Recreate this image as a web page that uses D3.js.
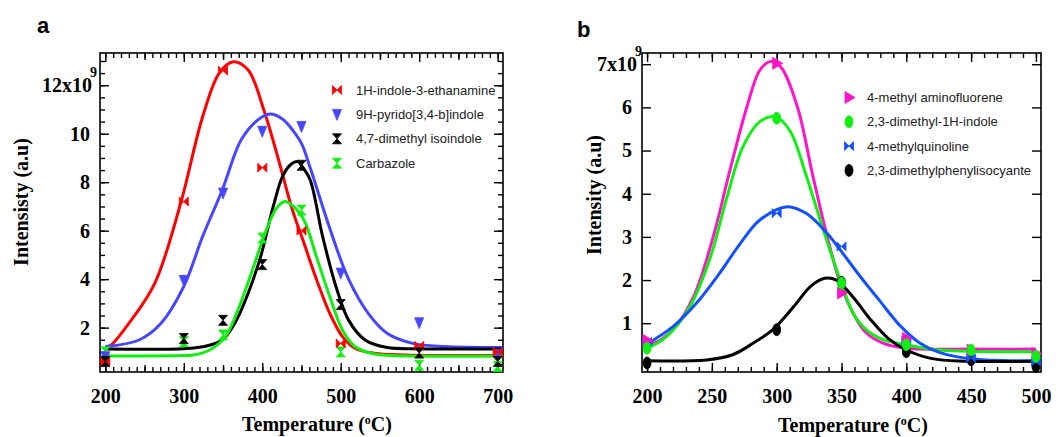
<!DOCTYPE html>
<html>
<head>
<meta charset="utf-8">
<script src="https://cdn.jsdelivr.net/npm/d3@7"></script>
<style>
  body { margin: 0; background: #fff; }
  svg { display: block; }
</style>
</head>
<body>
<div id="chart"></div>
<script>
// ---- panel a: measured points ----
let tempA = [200, 300, 350, 400, 450, 500, 600, 700];
let ethanamine = [0.6, 7.2, 12.6, 8.6, 6.0, 1.35, 1.25, 1.0];
let pyridoIndole = [0.8, 3.95, 7.55, 10.1, 10.3, 4.25, 2.2, 0.9];
let isoindole = [0.6, 1.55, 2.3, 4.6, 8.7, 2.95, 0.95, 0.6];
let carbazole = [1.0, 1.42, 1.7, 5.7, 6.85, 1.0, 0.45, 0.4];

// panel a: fitted curves as [temp, intensity]
let fitEthanamine = [[200, 1.2], [206, 1.25], [230, 2.18], [263, 3.83], [296, 7.13], [324, 10.7], [345, 12.49], [363, 12.97], [382, 12.63], [402, 10.98], [422, 8.78], [438, 6.9], [453, 5.5], [469, 4.0], [486, 2.59], [502, 1.64], [518, 1.15], [543, 0.94], [580, 0.87], [640, 0.85], [706, 0.85]];
let fitPyrido = [[200, 1.22], [243, 1.49], [271, 2.18], [300, 3.7], [324, 5.76], [349, 7.68], [373, 9.74], [394, 10.56], [410, 10.81], [426, 10.6], [440, 10.1], [450, 9.6], [462, 8.5], [486, 6.1], [510, 4.0], [535, 2.59], [559, 1.77], [592, 1.35], [633, 1.22], [706, 1.18]];
let fitIsoindole = [[200, 1.12], [300, 1.13], [324, 1.21], [349, 1.49], [365, 2.18], [382, 3.42], [398, 4.94], [414, 7.0], [426, 8.25], [437, 8.75], [445, 8.85], [452, 8.6], [461, 8.1], [477, 5.75], [494, 3.69], [510, 2.31], [531, 1.49], [559, 1.18], [600, 1.13], [706, 1.12]];
let fitCarbazole = [[200, 0.83], [300, 0.85], [312, 0.87], [333, 1.08], [353, 1.63], [369, 2.73], [386, 4.24], [402, 5.75], [418, 6.92], [429, 7.2], [438, 7.05], [453, 6.45], [469, 4.93], [486, 3.28], [502, 1.91], [518, 1.22], [543, 0.91], [600, 0.83], [706, 0.83]];

// ---- panel b: measured points ----
let tempB = [200, 300, 350, 400, 450, 500];
let aminofluorene = [0.6, 7.02, 1.7, 0.65, 0.38, 0.3];
let dimethylIndole = [0.42, 5.75, 1.93, 0.5, 0.38, 0.23];
let methylquinoline = [0.57, 3.55, 2.78, 0.6, 0.19, 0.11];
let isocyanate = [0.08, 0.85, 1.95, 0.34, 0.15, 0.0];

let fitAminofluorene = [[200, 0.57], [205, 0.54], [220, 0.85], [236, 1.62], [251, 3.0], [264, 4.55], [277, 6.01], [287, 6.86], [295, 7.06], [303, 6.94], [316, 6.01], [328, 4.4], [339, 3.0], [349, 1.93], [359, 1.23], [369, 0.78], [382, 0.54], [400, 0.42], [450, 0.4], [500, 0.4]];
let fitDimethylIndole = [[200, 0.42], [215, 0.69], [233, 1.38], [249, 2.54], [261, 3.85], [274, 5.09], [287, 5.67], [299, 5.78], [310, 5.47], [323, 4.4], [336, 3.16], [349, 2.0], [359, 1.23], [369, 0.85], [382, 0.62], [400, 0.5], [426, 0.38], [500, 0.34]];
let fitQuinoline = [[200, 0.52], [220, 0.92], [238, 1.46], [256, 2.16], [272, 2.85], [287, 3.39], [308, 3.7], [323, 3.54], [339, 3.08], [349, 2.7], [364, 2.1], [380, 1.5], [395, 0.95], [410, 0.55], [426, 0.32], [452, 0.17], [500, 0.13]];
let fitIsocyanate = [[200, 0.13], [246, 0.15], [266, 0.27], [282, 0.54], [297, 0.85], [313, 1.38], [326, 1.85], [337, 2.04], [346, 2.0], [359, 1.6], [372, 1.1], [386, 0.65], [400, 0.38], [420, 0.18], [445, 0.12], [500, 0.12]];

// tick labels
let xTicksA = [200, 300, 400, 500, 600, 700];
let yTicksA = [2, 4, 6, 8, 10, 12];
let xTicksB = [200, 250, 300, 350, 400, 450, 500];
let yTicksB = [1, 2, 3, 4, 5, 6, 7];

let shapes = {
  bowtie: "M-4.5,-4.5L0,0L-4.5,4.5Z M4.5,-4.5L0,0L4.5,4.5Z",
  hourglass: "M-4.5,-5L4.5,-5L0,0Z M-4.5,5L4.5,5L0,0Z",
  down: "M-4.5,-5L4.5,-5L0,6Z",
  right: "M-4,-6L6,0L-4,6Z",
  ellipse: "M0,-6A4,6 0 1,1 0,6A4,6 0 1,1 0,-6Z",
};

let serif = "'Liberation Serif', 'Times New Roman', serif";
let sans = "'Liberation Sans', Arial, sans-serif";

let svg = d3.select("#chart").append("svg").attr("width", 1058).attr("height", 437);

function addAxis(g, axis, transform) {
  let a = g.append("g").attr("transform", transform).call(axis);
  a.select(".domain").remove();
  a.selectAll("line").attr("stroke-width", 1.4);
  a.selectAll("text")
    .attr("font-family", serif)
    .attr("font-size", 20)
    .attr("font-weight", "bold")
    .attr("fill", "#000");
  return a;
}

function drawPanel(p) {
  let g = svg.append("g").attr("transform", `translate(${p.left},${p.top})`);
  let w = p.width, h = p.height;
  let x = d3.scaleLinear().domain(p.xDomain).range([0, w]);
  let y = d3.scaleLinear().domain(p.yDomain).range([h, 0]);

  // ticks, inward on all four sides
  let none = () => "";
  addAxis(g, d3.axisBottom(x).tickValues(p.xMinor).tickSize(-5).tickFormat(none), `translate(0,${h})`);
  addAxis(g, d3.axisTop(x).tickValues(p.xMinor).tickSize(-5).tickFormat(none), "translate(0,0)");
  if (p.xMid) {
    addAxis(g, d3.axisBottom(x).tickValues(p.xMid).tickSize(-7).tickFormat(none), `translate(0,${h})`);
    addAxis(g, d3.axisTop(x).tickValues(p.xMid).tickSize(-7).tickFormat(none), "translate(0,0)");
  }
  addAxis(g, d3.axisBottom(x).tickValues(p.xTicks).tickSize(-9).tickPadding(17).tickFormat(d3.format("d")), `translate(0,${h})`);
  addAxis(g, d3.axisTop(x).tickValues(p.xTicks).tickSize(-9).tickFormat(none), "translate(0,0)");
  if (p.yMinor) {
    addAxis(g, d3.axisLeft(y).tickValues(p.yMinor).tickSize(-5).tickFormat(none), "translate(0,0)");
    addAxis(g, d3.axisRight(y).tickValues(p.yMinor).tickSize(-5).tickFormat(none), `translate(${w},0)`);
  }
  let top = p.yTicks[p.yTicks.length - 1];
  let yl = addAxis(g, d3.axisLeft(y).tickValues(p.yTicks).tickSize(-9).tickPadding(10)
    .tickFormat((d) => (d === top ? d + "x10" : d)), "translate(0,0)");
  addAxis(g, d3.axisRight(y).tickValues(p.yTicks).tickSize(-9).tickFormat(none), `translate(${w},0)`);

  // exponent above the top label
  yl.selectAll(".tick").filter((d) => d === top)
    .call((t) => t.select("text").attr("x", -10 + p.expShift))
    .append("text")
    .attr("x", -12 + p.expShift)
    .attr("y", -9)
    .attr("font-family", serif)
    .attr("font-size", 14)
    .attr("font-weight", "bold")
    .attr("fill", "#000")
    .attr("text-anchor", "start")
    .text("9");

  // frame
  g.append("rect")
    .attr("width", w)
    .attr("height", h)
    .attr("fill", "none")
    .attr("stroke", "#000")
    .attr("stroke-width", 1.6);

  let clipId = "clip-" + p.name;
  g.append("clipPath").attr("id", clipId).append("rect").attr("width", w).attr("height", h);

  let line = d3.line()
    .x((d) => x(d[0]))
    .y((d) => y(d[1]))
    .curve(d3.curveCatmullRom.alpha(0.5));

  g.append("g")
    .attr("clip-path", `url(#${clipId})`)
    .selectAll("path")
    .data(p.series)
    .join("path")
    .attr("d", (s) => line(s.fit))
    .attr("fill", "none")
    .attr("stroke", (s) => s.color)
    .attr("stroke-width", 3);

  p.markerOrder.forEach((i) => {
    let s = p.series[i];
    g.append("g")
      .selectAll("path")
      .data(s.values)
      .join("path")
      .attr("transform", (d, j) => `translate(${x(p.temps[j])},${y(d)})`)
      .attr("d", shapes[s.shape])
      .attr("fill", s.color)
      .attr("stroke", s.color)
      .attr("stroke-width", 0.8);
  });

  // legend
  let leg = svg.append("g")
    .selectAll("g")
    .data(p.series)
    .join("g")
    .attr("transform", (s, i) => `translate(${p.legX},${p.legY + i * p.legStep})`);
  leg.append("path")
    .attr("d", (s) => shapes[s.shape])
    .attr("fill", (s) => s.color)
    .attr("stroke", (s) => s.color)
    .attr("stroke-width", 0.8);
  leg.append("text")
    .attr("x", p.legText)
    .attr("y", 4.5)
    .attr("font-family", sans)
    .attr("font-size", 13)
    .attr("fill", "#222")
    .text((s) => s.label);

  // axis titles
  let xt = svg.append("text")
    .attr("x", p.xTitle[0])
    .attr("y", p.xTitle[1])
    .attr("text-anchor", "middle")
    .attr("font-family", serif)
    .attr("font-size", 20)
    .attr("font-weight", "bold");
  xt.append("tspan").text("Temperature (");
  xt.append("tspan").attr("dy", -7).attr("font-size", 12).text("o");
  xt.append("tspan").attr("dy", 7).text("C)");

  svg.append("text")
    .attr("transform", `translate(${p.yTitle[0]},${p.yTitle[1]}) rotate(-90)`)
    .attr("text-anchor", "middle")
    .attr("font-family", serif)
    .attr("font-size", 20)
    .attr("font-weight", "bold")
    .text(p.yLabel);

  svg.append("text")
    .attr("x", p.tag[0])
    .attr("y", p.tag[1])
    .attr("font-family", sans)
    .attr("font-size", 22)
    .attr("font-weight", "bold")
    .text(p.name);
}

drawPanel({
  name: "a",
  left: 100, top: 53, width: 403, height: 319,
  xDomain: [193.2, 706.8], yDomain: [0.17, 13.33],
  xTicks: xTicksA,
  xMid: [250, 350, 450, 550, 650],
  xMinor: d3.range(200, 701, 10),
  yTicks: yTicksA,
  yMinor: d3.range(0.5, 13.3, 0.5),
  expShift: 2,
  temps: tempA,
  series: [
    { label: "1H-indole-3-ethanamine", color: "#ff0000", shape: "bowtie", values: ethanamine, fit: fitEthanamine },
    { label: "9H-pyrido[3,4-b]indole", color: "#4646ff", shape: "down", values: pyridoIndole, fit: fitPyrido },
    { label: "4,7-dimethyl isoindole", color: "#000000", shape: "hourglass", values: isoindole, fit: fitIsoindole },
    { label: "Carbazole", color: "#11ee11", shape: "hourglass", values: carbazole, fit: fitCarbazole },
  ],
  markerOrder: [3, 1, 0, 2],
  legX: 337, legY: 90, legStep: 24.4, legText: 19,
  xTitle: [317, 431], yTitle: [28, 202], yLabel: "Intensisty (a.u)",
  tag: [37, 33],
});

drawPanel({
  name: "b",
  left: 642, top: 53, width: 399, height: 319,
  xDomain: [196.1, 503.9], yDomain: [-0.13, 7.26],
  xTicks: xTicksB,
  xMinor: d3.range(200, 501, 10),
  yTicks: yTicksB,
  expShift: 5,
  temps: tempB,
  series: [
    { label: "4-methyl aminofluorene", color: "#ff14c8", shape: "right", values: aminofluorene, fit: fitAminofluorene },
    { label: "2,3-dimethyl-1H-indole", color: "#11ee11", shape: "ellipse", values: dimethylIndole, fit: fitDimethylIndole },
    { label: "4-methylquinoline", color: "#1450ff", shape: "bowtie", values: methylquinoline, fit: fitQuinoline },
    { label: "2,3-dimethylphenylisocyante", color: "#000000", shape: "ellipse", values: isocyanate, fit: fitIsocyanate },
  ],
  markerOrder: [3, 2, 0, 1],
  legX: 849, legY: 97.5, legStep: 24.3, legText: 18,
  xTitle: [853, 432], yTitle: [601, 195], yLabel: "Intensity (a.u)",
  tag: [577, 37],
});
</script>
</body>
</html>
